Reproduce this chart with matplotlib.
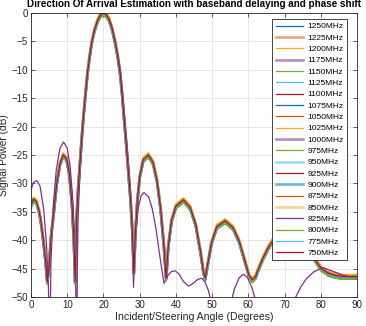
import numpy as np
import matplotlib
matplotlib.use('Agg')
import matplotlib.pyplot as plt

plt.rcParams['font.family'] = ['Liberation Sans', 'DejaVu Sans']

freqs = [1250, 1225, 1200, 1175, 1150, 1125, 1100, 1075, 1050, 1025, 1000,
         975, 950, 925, 900, 875, 850, 825, 800, 775, 750]

# beam pattern shared by (almost) all frequencies
angle = [0, 0.7, 1.5, 2.3, 2.9, 3.5, 4.0, 4.5, 5.0, 5.5, 6.2, 7.1, 8.0, 8.9,
         9.8, 10.6, 11.3, 11.8, 12.2, 12.6, 13.0, 13.5, 14.0, 14.5, 15.0, 15.6,
         16.2, 16.8, 17.5, 18.5, 19.3, 20.0, 20.7, 21.5, 22.3, 23.2, 24.0, 24.6,
         25.2, 25.7, 26.3, 26.9, 27.5, 28.0, 28.4, 28.8, 29.3, 30.0, 31.0, 32.4,
         33.7, 34.8, 35.8, 36.7, 37.3, 37.9, 38.8, 40.0, 42.1, 44.0, 45.5, 46.8,
         47.6, 48.1, 48.7, 49.8, 51.3, 53.6, 55.8, 57.5, 59.0, 60.2, 61.1, 62.0,
         62.5, 64.0, 65.5, 67.0, 68.5, 70.0, 72.0, 74.0, 76.0, 78.0, 80.0, 82.0,
         84.0, 86.0, 88.0, 90.0]
power_db = [-33.8, -32.8, -33.2, -35.0, -37.4, -40.5, -43.5, -47.3, -44.5, -39.5,
            -35.5, -30.0, -26.5, -25.0, -25.6, -28.3, -33.5, -39.5, -47.3, -36.0,
            -31.0, -26.5, -22.0, -18.0, -14.5, -10.5, -7.5, -5.0, -3.0, -1.1,
            -0.25, 0.0, -0.25, -1.0, -2.5, -5.0, -7.8, -10.5, -14.5, -18.5, -23.0,
            -28.0, -33.0, -38.5, -45.8, -39.0, -33.5, -28.8, -25.8, -25.0, -26.3,
            -29.5, -34.5, -41.0, -46.7, -41.0, -36.5, -34.0, -32.9, -34.3, -37.3,
            -42.0, -45.5, -46.7, -44.5, -40.5, -37.6, -36.6, -37.8, -40.2, -43.5,
            -46.2, -47.0, -46.4, -45.5, -43.2, -41.3, -39.8, -38.6, -37.9, -37.7,
            -38.5, -40.3, -43.0, -44.9, -45.8, -46.2, -46.4, -46.4, -46.4]

# the 825MHz curve departs from the rest
angle_825 = [0, 0.7, 1.6, 2.5, 3.5, 4.3, 4.8, 5.0, 5.2, 5.5, 6.2, 7.0, 8.0, 9.0,
             10.0, 10.8, 11.5, 12.1, 12.4, 12.6, 12.8, 13.0, 13.5, 14.0, 14.5,
             15.0, 15.6, 16.2, 16.8, 17.5, 18.5, 19.3, 20.0, 20.7, 21.5, 22.3,
             23.2, 24.0, 24.6, 25.2, 25.7, 26.3, 26.9, 27.5, 27.9, 28.3, 28.6,
             29.0, 29.7, 30.4, 31.2, 32.5, 33.5, 34.5, 35.5, 36.7, 37.8, 38.8,
             39.8, 40.8, 42.0, 43.5, 44.8, 46.0, 47.1, 48.0, 49.0, 49.8, 51.0,
             52.5, 54.0, 55.4, 56.2, 57.5, 58.7, 59.8, 61.0, 62.0, 64.0, 67.0,
             70.0, 72.0, 73.1, 74.5, 76.0, 78.0, 80.5, 83.0, 86.0, 90.0]
power_825 = [-31.2, -29.8, -29.5, -30.5, -34.5, -41.0, -48.0, -55.0, -60.0, -44.0,
             -33.5, -27.5, -23.8, -22.7, -23.8, -27.0, -32.5, -40.5, -50.0, -60.0,
             -45.0, -36.0, -28.5, -23.0, -18.5, -14.8, -10.8, -7.7, -5.2, -3.1,
             -1.2, -0.3, 0.0, -0.3, -1.1, -2.4, -4.8, -7.5, -10.0, -13.8, -17.5,
             -22.0, -26.8, -32.0, -37.0, -48.3, -42.0, -38.0, -34.0, -32.2, -31.6,
             -32.4, -34.5, -38.0, -42.5, -47.6, -46.2, -45.5, -45.4, -45.9, -47.2,
             -48.1, -47.6, -46.9, -46.7, -47.3, -48.9, -51.0, -58.0, -65.0, -58.0,
             -50.5, -48.5, -46.6, -46.0, -46.6, -48.4, -50.5, -56.0, -62.0, -57.0,
             -52.0, -50.0, -48.2, -46.8, -45.6, -44.8, -45.4, -46.1, -46.9]

# small spread of the individual frequencies around the shared pattern (dB)
offsets = [0.1, -0.2, 0.3, -0.1, -0.5, -0.4, 0.0, 0.1, 0.2, 0.3, -0.3, -0.5,
           -0.2, 0.1, 0.0, 0.2, 0.3, 0.0, -0.4, -0.1, 0.0]

matlab = ['#0072BD', '#D95319', '#EDB120', '#7E2F8E', '#77AC30', '#4DBEEE', '#A2142F']
thick = [1225, 1175, 1000, 950, 900, 850]

fig = plt.figure(figsize=(3.66, 3.26), dpi=100)
ax = fig.add_axes([0.0847, 0.089, 0.8907, 0.871])

for i, f in enumerate(freqs):
    c = matlab[i % 7]
    if f == 825:
        x, y = angle_825, power_825
    else:
        x = angle
        y = np.array(power_db) + offsets[i]
    if f in thick:
        ax.plot(x, y, color=c, lw=1.9, alpha=0.55, label=f'{f}MHz')
    else:
        ax.plot(x, y, color=c, lw=0.9, label=f'{f}MHz')

ax.set_xlim(0, 90)
ax.set_ylim(-50, 0)
ax.set_xticks(np.arange(0, 91, 10))
ax.set_yticks(np.arange(-50, 1, 5))
ax.grid(True, color='#e3e3e3', lw=0.6)
ax.set_axisbelow(True)
ax.tick_params(direction='in', top=True, right=True, labelsize=7,
               colors='#262626', length=3, width=0.5, pad=2.5)
for s in ax.spines.values():
    s.set_color('#262626')
    s.set_linewidth(0.6)

ax.set_xlabel('Incident/Steering Angle (Degrees)', fontsize=7.6, color='#262626', labelpad=1)
ax.set_ylabel('Signal Power (dB)', fontsize=7.3, color='#262626', labelpad=0)
ax.yaxis.set_label_coords(-0.067, 0.5)
ax.set_title('Direction Of Arrival Estimation with baseband delaying and phase shift',
             fontsize=7.15, fontweight='bold', pad=4)

leg = ax.legend(loc='upper right', fontsize=6, frameon=True, fancybox=False,
                edgecolor='#262626', framealpha=1, handlelength=3.3,
                labelspacing=0.42, borderpad=0.4, handletextpad=0.5,
                borderaxespad=0, bbox_to_anchor=(0.969, 0.978))
leg.get_frame().set_linewidth(0.6)

fig.savefig('out.png', dpi=100)
